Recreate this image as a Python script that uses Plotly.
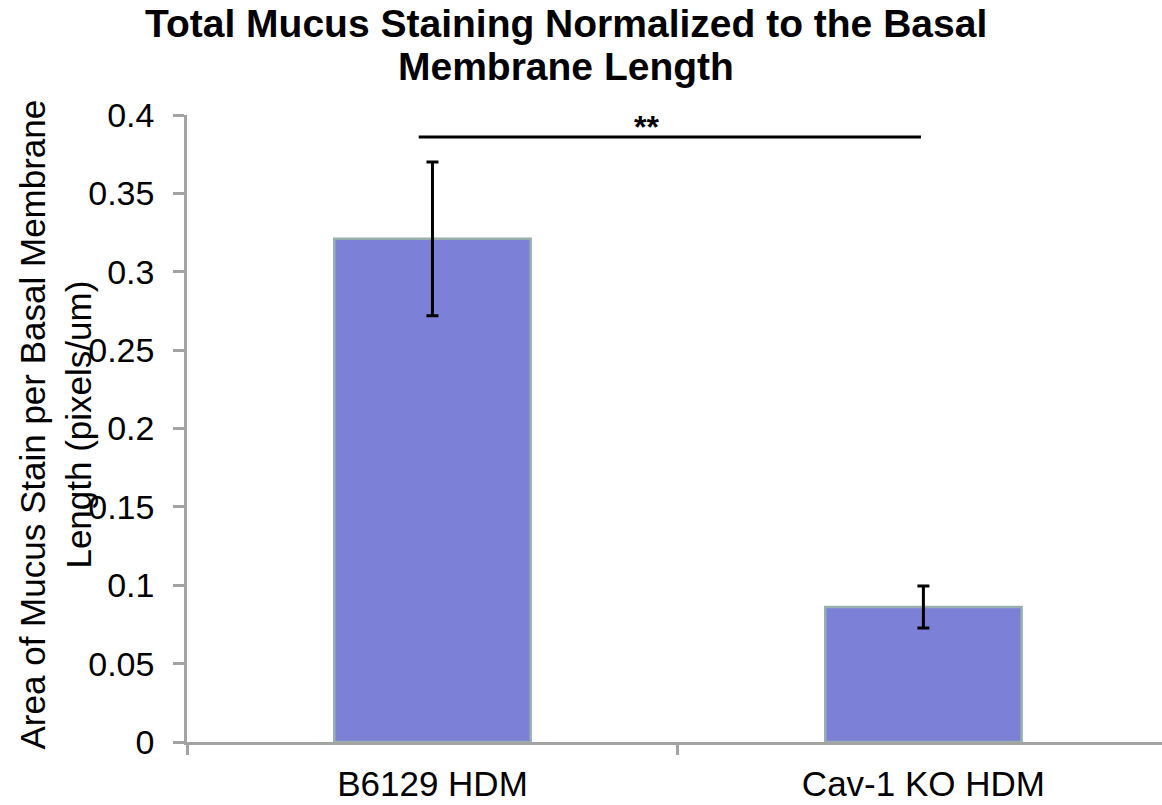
import plotly.graph_objects as go

categories = ["B6129 HDM", "Cav-1 KO HDM"]
values = [0.321, 0.0862]
errors = [0.049, 0.0134]
y_ticks = [0, 0.05, 0.1, 0.15, 0.2, 0.25, 0.3, 0.35, 0.4]
y_tick_labels = ["0", "0.05", "0.1", "0.15", "0.2", "0.25", "0.3", "0.35", "0.4"]
title_lines = ["Total Mucus Staining Normalized to the Basal", "Membrane Length"]
y_title = "Area of Mucus Stain per Basal Membrane<br>Length (pixels/um)"
sig_label = "**"
sig_y = 0.386

FONT = "Liberation Sans, Arial, sans-serif"
AXIS_COLOR = "#a3a3a3"

fig = go.Figure()
fig.add_trace(go.Bar(
    x=categories, y=values, width=0.4,
    marker=dict(color="#7d80d7", line=dict(color="#98b0ad", width=2.5)),
    error_y=dict(type="data", array=errors, visible=True, color="black", thickness=3, width=6),
    showlegend=False,
))

# significance bar
fig.add_shape(type="line", xref="x", yref="y", x0=-0.028, x1=0.995, y0=sig_y, y1=sig_y,
              line=dict(color="black", width=3))
fig.add_annotation(x=0.435, y=sig_y, xref="x", yref="y", text="<b>" + sig_label + "</b>",
                   showarrow=False, yanchor="bottom", yshift=-10,
                   font=dict(family=FONT, size=32, color="black"))

# title (two lines, placed individually for tight line spacing)
for i, line in enumerate(title_lines):
    fig.add_annotation(
        text="<b>" + line + "</b>", xref="paper", yref="paper",
        x=(566 - 187) / 975, y=1 + (115 - (23 + 43 * i)) / 627,
        showarrow=False, xanchor="center", yanchor="middle",
        font=dict(family=FONT, size=39, color="black"),
    )

# y-axis title overlapping tick labels as in the reference
fig.add_annotation(
    text=y_title, xref="paper", yref="paper", x=-0.135, y=0.507, textangle=-90,
    showarrow=False, xanchor="center", yanchor="middle",
    font=dict(family=FONT, size=35, color="black"),
)

fig.update_layout(
    width=1162, height=805,
    margin=dict(l=187, r=0, t=115, b=63),
    paper_bgcolor="white", plot_bgcolor="white",
    font=dict(family=FONT, color="black"),
)
fig.update_xaxes(
    type="category", range=[-0.5, 1.486],
    showline=True, linecolor=AXIS_COLOR, linewidth=2.5,
    ticks="outside", tickson="boundaries", ticklen=10, tickwidth=2.5, tickcolor=AXIS_COLOR,
    tickfont=dict(family=FONT, size=35, color="black"),
    ticklabelstandoff=9,
    showgrid=False, zeroline=False,
)
fig.update_yaxes(
    range=[0, 0.4], tickvals=y_ticks, ticktext=y_tick_labels,
    showline=True, linecolor=AXIS_COLOR, linewidth=2.5,
    ticks="outside", ticklen=11, tickwidth=2.5, tickcolor=AXIS_COLOR,
    tickfont=dict(family=FONT, size=34, color="black"),
    ticklabelstandoff=12,
    showgrid=False, zeroline=False,
)

fig.write_html("out.html")
